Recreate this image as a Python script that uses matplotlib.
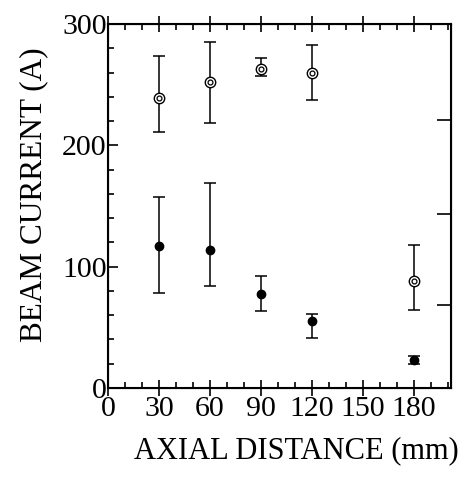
import numpy as np
from matplotlib import pyplot as plt
from matplotlib.ticker import MultipleLocator

# axial distance (mm)
distance = [30, 60, 90, 120, 180]

# open (bullseye) markers
openCurrent = [239, 252, 263, 260, 88]
openUpper = [274, 285, 272, 283, 118]
openLower = [211, 218, 257, 237, 64]

# filled markers
fillCurrent = [117, 114, 77, 55, 23]
fillUpper = [157, 169, 92, 61, 26]
fillLower = [78, 84, 63, 41, 20]

xTicks = [0, 30, 60, 90, 120, 150, 180]
yTicks = [0, 100, 200, 300]
rightTicks = [68, 143, 221]

plt.rcParams['font.family'] = ['Liberation Serif', 'DejaVu Serif']

fig = plt.figure(figsize=(4.66, 4.80), dpi=100)
ax = fig.add_axes([0.232, 0.192, 0.736, 0.758])


def errs(c, up, lo):
    c = np.asarray(c)
    return [c - np.asarray(lo), np.asarray(up) - c]


ax.errorbar(distance, openCurrent, yerr=errs(openCurrent, openUpper, openLower),
            fmt='none', ecolor='black', elinewidth=1.1, capsize=4, capthick=1.1)
ax.errorbar(distance, fillCurrent, yerr=errs(fillCurrent, fillUpper, fillLower),
            fmt='none', ecolor='black', elinewidth=1.1, capsize=4, capthick=1.1)
ax.plot(distance, openCurrent, 'o', ms=7.5, mfc='white', mec='black', mew=1.0, zorder=3)
ax.plot(distance, openCurrent, 'o', ms=3.5, mfc='white', mec='black', mew=0.9, zorder=4)
ax.plot(distance, fillCurrent, 'o', ms=6, mfc='black', mec='black', zorder=3)

ax.set_xlim(0, 202)
ax.set_ylim(0, 300)
ax.set_xticks(xTicks)
ax.set_yticks(yTicks)
ax.xaxis.set_minor_locator(MultipleLocator(10))
ax.yaxis.set_minor_locator(MultipleLocator(20))
ax.tick_params(axis='x', which='major', direction='inout', length=12, width=1.2,
               labelsize=21.5, pad=0, top=True)
ax.tick_params(axis='x', which='minor', direction='in', length=4, width=1.2, top=True)
ax.tick_params(axis='y', which='major', direction='in', length=7, width=1.2,
               labelsize=21.5, pad=1)
ax.tick_params(axis='y', which='minor', direction='in', length=4, width=1.2)
for s in ax.spines.values():
    s.set_linewidth(1.5)

ax2 = ax.twinx()
ax2.set_ylim(0, 300)
ax2.set_yticks(rightTicks)
ax2.set_yticklabels([])
ax2.tick_params(axis='y', direction='in', length=10, width=1.2)

ax.set_xlabel('AXIAL DISTANCE (mm)', fontsize=22, labelpad=10, x=0.55)
ax.set_ylabel('BEAM CURRENT (A)', fontsize=22.5, labelpad=10, y=0.53)

fig.savefig('out.png', dpi=100)
